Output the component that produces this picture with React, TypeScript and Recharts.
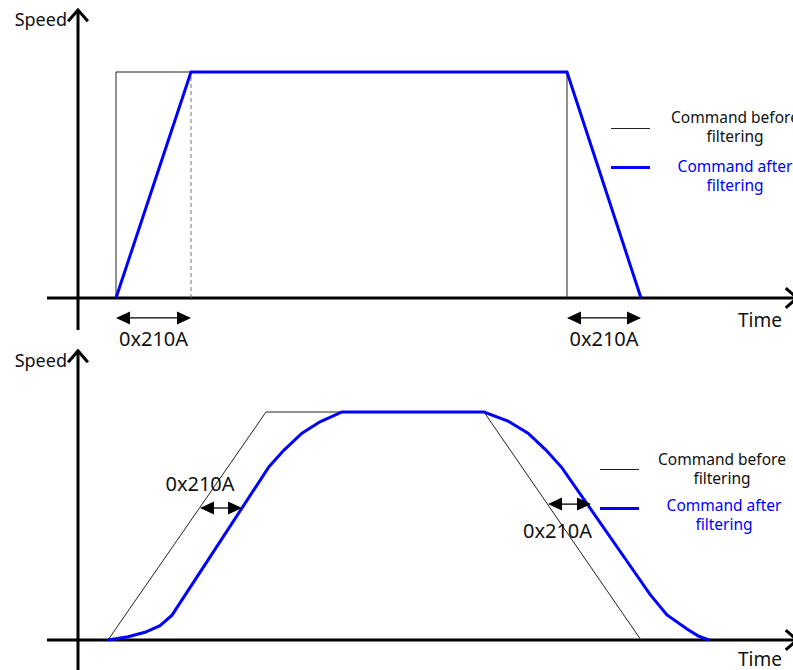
import { Line, LineChart, ReferenceLine, XAxis, YAxis } from 'recharts';

// top: command before / after a plain (linear) filter
const topBeforeTime = [116, 116, 567, 567];
const topBeforeSpeed = [0, 100, 100, 0];
const topAfterTime = [116, 191, 567, 641];
const topAfterSpeed = [0, 100, 100, 0];
const topDashTime = [191, 191];
const topDashSpeed = [0, 100];

// bottom: command before / after a moving average filter
const bottomBeforeTime = [108, 266, 484, 641];
const bottomBeforeSpeed = [0, 100, 100, 0];
const bottomAfterTime = [108, 128, 145, 160, 172, 269, 284, 302, 320, 342, 484, 508, 528, 546, 562, 635, 650, 667, 687, 698, 709];
const bottomAfterSpeed = [0, 1.4, 3.4, 6.3, 10.9, 76, 83.3, 90.7, 95.7, 100, 100, 96, 90.7, 83.3, 75.5, 29.5, 20, 11, 4.8, 1.8, 0];

const legendNames = ['Command before\nfiltering', 'Command after\nfiltering'];
const delayLabel = '0x210A';

const W = 793;
const FONT = '"Noto Sans", "Open Sans", sans-serif';
const BLUE = '#0000ff';

type Pt = { t: number; v: number };
const zip = (ts: number[], vs: number[]): Pt[] => ts.map((t, i) => ({ t, v: vs[i] }));

function axisShape(label: string, lx: number, ly: number, anchor: 'start' | 'middle' | 'end', fontSize: number) {
  return (p: any) => {
    const { x1, y1, x2, y2 } = p;
    const a = Math.atan2(y2 - y1, x2 - x1) + Math.PI;
    const len = 15;
    const sp = 0.72;
    const arm1 = [x2 + len * Math.cos(a + sp), y2 + len * Math.sin(a + sp)];
    const arm2 = [x2 + len * Math.cos(a - sp), y2 + len * Math.sin(a - sp)];
    return (
      <g>
        <line x1={x1} y1={y1} x2={x2} y2={y2} stroke="#000" strokeWidth={3} />
        <polyline
          points={`${arm1[0]},${arm1[1]} ${x2},${y2} ${arm2[0]},${arm2[1]}`}
          fill="none"
          stroke="#000"
          strokeWidth={3}
        />
        <text
          x={x2 + lx}
          y={y2 + ly}
          textAnchor={anchor}
          dominantBaseline="central"
          fontSize={fontSize}
          fontFamily={FONT}
          fill="#111"
        >
          {label}
        </text>
      </g>
    );
  };
}

function delayShape(dx: number, dy: number) {
  return (p: any) => {
    const { x1, y1, x2 } = p;
    const head = 14;
    const hw = 6.5;
    return (
      <g>
        <line x1={x1 + head - 1} y1={y1} x2={x2 - head + 1} y2={y1} stroke="#000" strokeWidth={1.3} />
        <polygon points={`${x1},${y1} ${x1 + head},${y1 - hw} ${x1 + head},${y1 + hw}`} fill="#000" />
        <polygon points={`${x2},${y1} ${x2 - head},${y1 - hw} ${x2 - head},${y1 + hw}`} fill="#000" />
        <text
          x={(x1 + x2) / 2 + dx}
          y={y1 + dy}
          textAnchor="middle"
          dominantBaseline="central"
          fontSize={20}
          fontFamily={FONT}
          fill="#111"
        >
          {delayLabel}
        </text>
      </g>
    );
  };
}

interface Delay {
  from: number;
  to: number;
  at: number;
  dx: number;
  dy: number;
}

interface PanelProps {
  top: number;
  height: number;
  zeroY: number;
  fullY: number;
  before: Pt[];
  after: Pt[];
  dash?: Pt[];
  delays: Delay[];
  yAxisRange: [number, number];
  timeDy: number;
}

function Panel({ top, height, zeroY, fullY, before, after, dash, delays, yAxisRange, timeDy }: PanelProps) {
  const ppu = (zeroY - fullY) / 100;
  const yMax = zeroY / ppu;
  const yMin = -(height - zeroY) / ppu;
  return (
    <div style={{ position: 'absolute', left: 0, top }}>
      <LineChart width={W} height={height} margin={{ top: 0, right: 0, bottom: 0, left: 0 }}>
        <XAxis type="number" dataKey="t" domain={[0, W]} hide allowDataOverflow />
        <YAxis type="number" domain={[yMin, yMax]} hide allowDataOverflow />
        <ReferenceLine
          segment={[{ x: 78, y: yAxisRange[0] }, { x: 78, y: yAxisRange[1] }]}
          ifOverflow="visible"
          shape={axisShape('Speed', -11, 9, 'end', 18)}
        />
        <ReferenceLine
          segment={[{ x: 47, y: 0 }, { x: 797, y: 0 }]}
          ifOverflow="visible"
          shape={axisShape('Time', -37, timeDy, 'middle', 19)}
        />
        {dash && (
          <Line
            data={dash}
            dataKey="v"
            type="linear"
            stroke="#777"
            strokeWidth={1}
            strokeDasharray="4 3"
            dot={false}
            activeDot={false}
            isAnimationActive={false}
          />
        )}
        <Line
          data={before}
          dataKey="v"
          type="linear"
          stroke="#222"
          strokeWidth={1}
          dot={false}
          activeDot={false}
          isAnimationActive={false}
        />
        <Line
          data={after}
          dataKey="v"
          type="linear"
          stroke={BLUE}
          strokeWidth={3}
          dot={false}
          activeDot={false}
          isAnimationActive={false}
        />
        {delays.map((d, i) => (
          <ReferenceLine
            key={i}
            segment={[{ x: d.from, y: d.at }, { x: d.to, y: d.at }]}
            ifOverflow="visible"
            shape={delayShape(d.dx, d.dy)}
          />
        ))}
      </LineChart>
    </div>
  );
}

function LegendItem({ x, y, textX, textY, color, text }: { x: number; y: number; textX: number; textY: number; color: string; text: string }) {
  const thick = color !== '#222';
  return (
    <>
      <div
        style={{
          position: 'absolute',
          left: x,
          top: y - (thick ? 1.5 : 0.5),
          width: 39,
          height: thick ? 3 : 1,
          background: color,
        }}
      />
      <div
        style={{
          position: 'absolute',
          left: textX - 80,
          top: textY,
          width: 160,
          textAlign: 'center',
          fontFamily: FONT,
          fontSize: 15.5,
          lineHeight: '19px',
          whiteSpace: 'pre',
          color: thick ? BLUE : '#111',
        }}
      >
        {text}
      </div>
    </>
  );
}

export default function App() {
  return (
    <div
      style={{
        position: 'absolute',
        left: 0,
        top: 0,
        width: W,
        height: 670,
        overflow: 'hidden',
        background: '#fff',
      }}
    >
      <Panel
        top={0}
        height={352}
        zeroY={298}
        fullY={72}
        before={zip(topBeforeTime, topBeforeSpeed)}
        after={zip(topAfterTime, topAfterSpeed)}
        dash={zip(topDashTime, topDashSpeed)}
        delays={[
          { from: 116, to: 191, at: -8.8, dx: 0, dy: 21 },
          { from: 567, to: 641, at: -8.8, dx: 0, dy: 21 },
        ]}
        yAxisRange={[-14.2, 127.4]}
        timeDy={22}
      />
      <Panel
        top={340}
        height={330}
        zeroY={300}
        fullY={72}
        before={zip(bottomBeforeTime, bottomBeforeSpeed)}
        after={zip(bottomAfterTime, bottomAfterSpeed)}
        delays={[
          { from: 200, to: 242, at: 57.9, dx: -21, dy: -24 },
          { from: 548, to: 591, at: 59.6, dx: -12, dy: 26 },
        ]}
        yAxisRange={[-14, 126.8]}
        timeDy={19}
      />
      <LegendItem x={611} y={128} textX={735} textY={108} color="#222" text={legendNames[0]} />
      <LegendItem x={611} y={167} textX={735} textY={157} color={BLUE} text={legendNames[1]} />
      <LegendItem x={600} y={469} textX={722} textY={450} color="#222" text={legendNames[0]} />
      <LegendItem x={600} y={508} textX={724} textY={496} color={BLUE} text={legendNames[1]} />
    </div>
  );
}
